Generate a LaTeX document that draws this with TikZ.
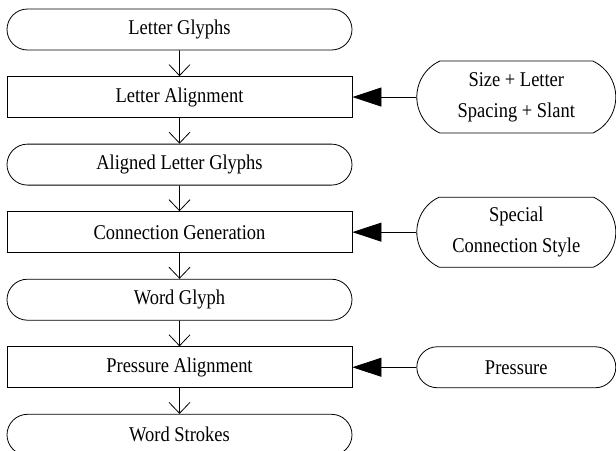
\documentclass[tikz,border=0pt]{standalone}
\usepackage{fontspec}
\setmainfont{Liberation Serif}[FakeStretch=0.88]
\usetikzlibrary{arrows.meta,positioning,shapes.misc}

\tikzset{
  glyphstate/.style={rounded rectangle, draw, minimum width=345pt, minimum height=41pt, inner sep=0pt},
  stage/.style={rectangle, draw, minimum width=345pt, minimum height=41pt, inner sep=0pt},
  param/.style={rounded rectangle, draw, minimum width=199pt, minimum height=41pt, inner sep=0pt, align=center},
}

\begin{document}
\begin{tikzpicture}[x=1pt,y=1pt,line width=0.8pt,font=\fontsize{21}{30.7}\selectfont,node distance=25.75pt]
  \useasboundingbox (0,0) rectangle (616,-450);
  \node[glyphstate] (letters) at (179.5,-29.5) {Letter Glyphs};
  \node[stage, below=of letters] (letteralign) {Letter Alignment};
  \node[glyphstate, below=of letteralign] (aligned) {Aligned Letter Glyphs};
  \node[stage, below=of aligned] (conngen) {Connection Generation};
  \node[glyphstate, below=of conngen] (word) {Word Glyph};
  \node[stage, below=of word] (pressalign) {Pressure Alignment};
  \node[glyphstate, below=of pressalign] (strokes) {Word Strokes};

  \node[param, minimum height=72pt, rounded rectangle arc length=130, right=64pt of letteralign] (sizes) {Size + Letter\\Spacing + Slant};
  \node[param, minimum height=70pt, rounded rectangle arc length=130, right=64pt of conngen] (connstyle) {Special\\Connection Style};
  \node[param, right=64pt of pressalign] (pressure) {Pressure};

  \begin{scope}[>={Straight Barb[length=11pt,width=21pt]}]
    \draw[->] (letters) -- (letteralign);
    \draw[->] (letteralign) -- (aligned);
    \draw[->] (aligned) -- (conngen);
    \draw[->] (conngen) -- (word);
    \draw[->] (word) -- (pressalign);
    \draw[->] (pressalign) -- (strokes);
  \end{scope}
  \begin{scope}[>={Triangle[length=29pt,width=19pt]}]
    \draw[->] (sizes) -- (letteralign);
    \draw[->] (connstyle) -- (conngen);
    \draw[->] (pressure) -- (pressalign);
  \end{scope}
\end{tikzpicture}
\end{document}
